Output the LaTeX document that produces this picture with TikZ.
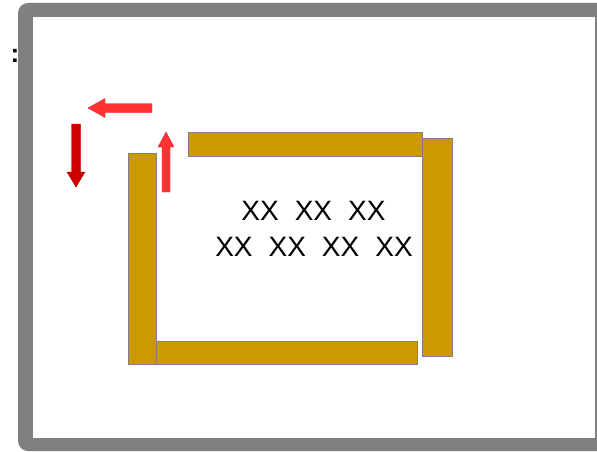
\documentclass[tikz,border=0pt]{standalone}
\usepackage{fontspec}
\setmainfont{Liberation Sans}
\definecolor{frame}{HTML}{808080}
\definecolor{gold}{HTML}{CC9900}
\definecolor{lred}{HTML}{FF3333}
\definecolor{dred}{HTML}{CC0000}
\tikzset{
  bar/.style={fill=gold, draw=frame, line width=0.8pt},
  arr/.style={line width=0.4pt, line join=miter},
  lbl/.style={font=\fontsize{28}{34}\selectfont, inner sep=0pt, align=center}
}
\begin{document}
\begin{tikzpicture}[x=1pt,y=-1pt]
\useasboundingbox (0,0) rectangle (597,452);
\begin{scope}
\clip (0,0) rectangle (597,452);
% frame
\fill[frame, rounded corners=10pt] (18,3) rectangle (640,451);
\fill[white] (33,17) rectangle (595,438);
\end{scope}
\node[font=\fontsize{26}{30}\selectfont\bfseries, inner sep=0pt] (colon) at (15,56) {:};
% arrows
\filldraw[arr, fill=lred, draw=lred!85!black]
  (152,103.5) -- (105,103.5) -- (105,98.5) -- (88,108) -- (105,117.5) -- (105,112.5) -- (152,112.5) -- cycle;
\filldraw[arr, fill=dred, draw=dred!85!black]
  (71.5,124) -- (80.5,124) -- (80.5,172) -- (85,172) -- (76,187) -- (67,172) -- (71.5,172) -- cycle;
\filldraw[arr, fill=lred, draw=lred!85!black]
  (162,192) -- (170,192) -- (170,147) -- (174,147) -- (166,132) -- (158,147) -- (162,147) -- cycle;
% bars
\path[bar] (188,132.5) rectangle (422,156.5);
\path[bar] (422,138) rectangle (452,356);
\path[bar] (128,153) rectangle (156,364);
\path[bar] (156,341) rectangle (417,364.5);
% text
\node[lbl] (t1) at (313.5,211) {\spaceskip=16pt XX XX XX};
\node[lbl] (t2) at (314,247) {\spaceskip=16pt XX XX XX XX};
\end{tikzpicture}
\end{document}
